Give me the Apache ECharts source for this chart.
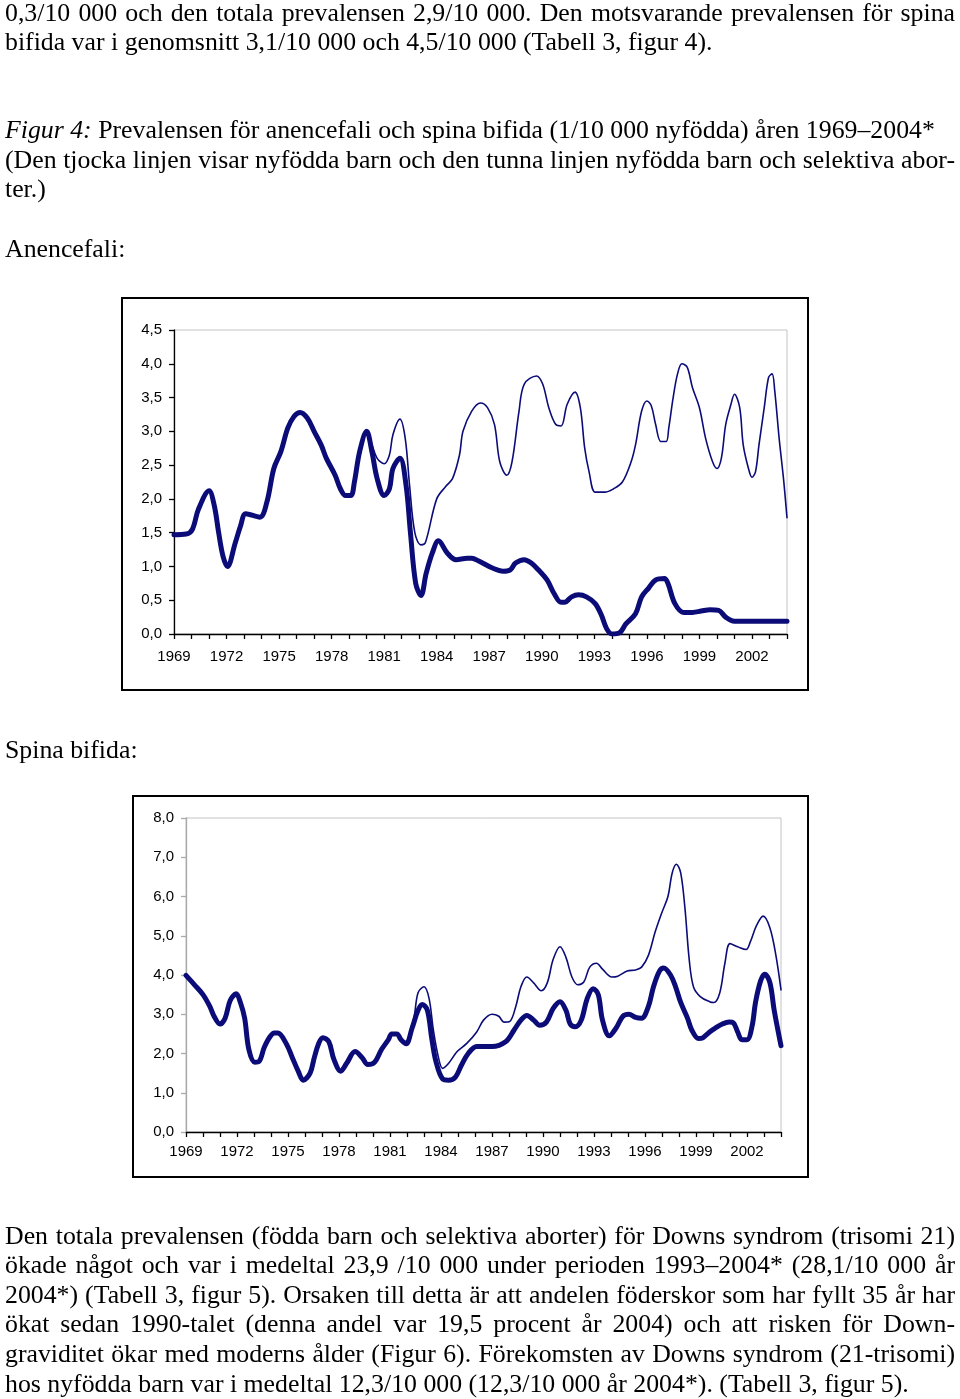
<!DOCTYPE html>
<html><head><meta charset="utf-8">
<script src="https://cdn.jsdelivr.net/npm/echarts@6/dist/echarts.min.js"></script>
<style>
html,body{margin:0;padding:0;background:#fff;}
body{width:960px;height:1399px;position:relative;overflow:hidden;font-family:"Liberation Serif","Times New Roman",serif;font-size:25.8px;color:#000;}
#chart{position:absolute;left:0;top:0;width:960px;height:1399px;}
.ln{position:absolute;left:5px;width:950px;line-height:25.8px;white-space:nowrap;}
.j{text-align:justify;text-align-last:justify;}
</style></head>
<body>
<div id="chart"></div>
<div class="ln j" style="top:0px">0,3/10 000 och den totala prevalensen 2,9/10 000. Den motsvarande prevalensen för spina</div>
<div class="ln" style="top:29px">bifida var i genomsnitt 3,1/10 000 och 4,5/10 000 (Tabell 3, figur 4).</div>
<div class="ln" style="top:117.2px"><i>Figur 4:</i> Prevalensen för anencefali och spina bifida (1/10 000 nyfödda) åren 1969–2004*</div>
<div class="ln j" style="top:147.2px">(Den tjocka linjen visar nyfödda barn och den tunna linjen nyfödda barn och selektiva abor-</div>
<div class="ln" style="top:176.2px">ter.)</div>
<div class="ln" style="top:236.2px">Anencefali:</div>
<div class="ln" style="top:737.2px">Spina bifida:</div>
<div class="ln j" style="top:1223.2px">Den totala prevalensen (födda barn och selektiva aborter) för Downs syndrom (trisomi 21)</div>
<div class="ln j" style="top:1252.4px">ökade något och var i medeltal 23,9 /10 000 under perioden 1993–2004* (28,1/10 000 år</div>
<div class="ln j" style="top:1282.2px">2004*) (Tabell 3, figur 5). Orsaken till detta är att andelen föderskor som har fyllt 35 år har</div>
<div class="ln j" style="top:1311.4px">ökat sedan 1990-talet (denna andel var 19,5 procent år 2004) och att risken för Down-</div>
<div class="ln j" style="top:1341.2px">graviditet ökar med moderns ålder (Figur 6). Förekomsten av Downs syndrom (21-trisomi)</div>
<div class="ln" style="top:1371.2px">hos nyfödda barn var i medeltal 12,3/10 000 (12,3/10 000 år 2004*). (Tabell 3, figur 5).</div>
<script>
// ---- Anencefali ----
const anenBirthYears = [1969,1969.7,1970.05,1970.4,1971.0,1971.3,1971.55,1971.8,1972.05,1972.5,1972.8,1973.1,1973.9,1974.3,1974.7,1975.1,1975.5,1975.85,1976.2,1976.6,1977.0,1977.4,1977.7,1978.2,1978.5,1978.8,1979.1,1979.3,1979.6,1980.0,1980.3,1980.6,1981.0,1981.3,1981.5,1981.9,1982.25,1982.5,1982.8,1983.1,1983.4,1983.75,1984.1,1984.6,1985.1,1985.75,1986.0,1986.4,1987.15,1987.8,1988.2,1988.5,1989.0,1989.4,1989.8,1990.3,1990.7,1991.1,1991.3,1991.7,1992.1,1992.55,1993.05,1993.4,1993.7,1994.0,1994.45,1994.8,1995.35,1995.7,1996.1,1996.5,1997.0,1997.2,1997.6,1998.1,1998.6,1999.1,1999.6,2000.1,2000.5,2001.0,2002.0,2003.0,2004.0];
const anenBirthVals = [1.47,1.48,1.55,1.85,2.12,1.9,1.5,1.15,1.0,1.35,1.6,1.78,1.73,1.95,2.45,2.7,3.05,3.22,3.28,3.2,3.0,2.8,2.6,2.35,2.15,2.05,2.05,2.25,2.7,3.0,2.7,2.3,2.05,2.15,2.45,2.6,2.2,1.5,0.75,0.57,0.9,1.2,1.38,1.2,1.1,1.12,1.12,1.08,0.98,0.93,0.95,1.05,1.1,1.05,0.95,0.8,0.6,0.47,0.47,0.55,0.58,0.55,0.45,0.28,0.08,0.0,0.02,0.15,0.3,0.55,0.68,0.8,0.82,0.75,0.45,0.32,0.32,0.34,0.36,0.35,0.25,0.19,0.19,0.19,0.19];
const anenTotalYears = [1979.6,1980.0,1980.3,1980.6,1981.0,1981.3,1981.5,1981.9,1982.2,1982.45,1982.75,1983.1,1983.35,1984.0,1984.5,1984.9,1985.3,1985.5,1986.0,1986.5,1986.9,1987.3,1987.6,1988.0,1988.3,1988.7,1989.0,1989.7,1990.05,1990.4,1990.8,1991.1,1991.45,1991.9,1992.2,1992.45,1992.7,1993.05,1993.6,1994.1,1994.6,1995.1,1995.35,1995.7,1996.0,1996.25,1996.5,1996.8,1997.1,1997.25,1997.5,1997.75,1998.0,1998.3,1998.6,1999.0,1999.35,1999.75,2000.0,2000.25,2000.5,2000.8,2001.0,2001.3,2001.5,2001.8,2002.0,2002.2,2002.4,2002.7,2002.95,2003.15,2003.3,2003.55,2003.8,2004.0];
const anenTotalVals = [2.7,3.0,2.8,2.6,2.52,2.65,2.95,3.18,2.9,2.2,1.5,1.32,1.35,2.0,2.18,2.3,2.65,3.0,3.3,3.42,3.35,3.1,2.55,2.35,2.55,3.3,3.7,3.82,3.7,3.35,3.1,3.08,3.4,3.58,3.35,2.75,2.4,2.1,2.1,2.15,2.25,2.55,2.8,3.3,3.45,3.38,3.1,2.85,2.85,3.05,3.5,3.85,4.0,3.95,3.65,3.35,2.9,2.55,2.45,2.6,3.1,3.4,3.55,3.35,2.8,2.45,2.32,2.4,2.8,3.35,3.8,3.85,3.6,2.9,2.3,1.72];
// ---- Spina bifida ----
const spinaBirthYears = [1969.0,1969.5,1970.0,1970.4,1970.65,1971.0,1971.3,1971.6,1971.95,1972.2,1972.45,1972.7,1973.05,1973.3,1973.6,1973.9,1974.2,1974.4,1974.9,1975.25,1975.6,1975.9,1976.3,1976.55,1976.8,1977.05,1977.4,1977.7,1978.1,1978.45,1978.95,1979.35,1979.7,1980.1,1980.5,1980.9,1981.1,1981.4,1981.65,1981.95,1982.3,1982.65,1982.9,1983.2,1983.45,1983.7,1984.1,1984.45,1984.85,1985.2,1985.6,1986.1,1987.0,1987.8,1988.3,1988.7,1989.05,1989.45,1989.8,1990.2,1990.6,1991.0,1991.35,1991.6,1991.9,1992.25,1992.6,1992.95,1993.25,1993.5,1993.9,1994.3,1994.7,1995.05,1995.45,1995.8,1996.2,1996.5,1996.85,1997.1,1997.5,1997.8,1998.1,1998.5,1998.75,1999.15,1999.4,1999.8,2000.15,2000.55,2000.95,2001.2,2001.45,2001.7,2002.0,2002.3,2002.5,2002.8,2003.05,2003.35,2003.6,2004.0];
const spinaBirthVals = [3.99,3.75,3.5,3.2,2.95,2.75,2.9,3.35,3.52,3.3,2.9,2.1,1.78,1.8,2.15,2.4,2.52,2.52,2.25,1.9,1.55,1.32,1.5,1.9,2.25,2.4,2.3,1.85,1.55,1.75,2.05,1.9,1.72,1.78,2.1,2.35,2.5,2.5,2.35,2.25,2.65,3.1,3.25,3.1,2.4,1.8,1.35,1.32,1.4,1.7,2.0,2.18,2.18,2.3,2.6,2.85,2.97,2.85,2.72,2.8,3.15,3.32,3.1,2.75,2.68,2.85,3.4,3.65,3.5,2.85,2.45,2.65,2.95,3.0,2.92,2.9,3.2,3.7,4.1,4.18,4.0,3.7,3.3,2.9,2.6,2.38,2.4,2.55,2.65,2.75,2.8,2.78,2.55,2.35,2.35,2.7,3.3,3.85,4.02,3.8,3.1,2.2];
const spinaTotalYears = [1981.65,1981.95,1982.4,1982.65,1983.0,1983.3,1983.55,1983.85,1984.1,1984.45,1984.95,1985.5,1986.1,1986.5,1987.0,1987.4,1987.7,1988.05,1988.4,1988.7,1989.05,1989.45,1989.9,1990.25,1990.6,1991.0,1991.35,1991.7,1992.05,1992.4,1992.75,1993.15,1993.5,1994.05,1994.4,1994.95,1995.45,1995.8,1996.2,1996.6,1997.0,1997.35,1997.6,1997.85,1998.1,1998.35,1998.6,1998.85,1999.25,1999.8,2000.05,2000.4,2000.7,2001.0,2001.45,2001.95,2002.2,2002.55,2002.95,2003.35,2003.7,2004.0];
const spinaTotalVals = [2.35,2.3,2.9,3.55,3.7,3.4,2.6,1.9,1.62,1.75,2.05,2.25,2.55,2.85,3.0,2.95,2.8,2.82,3.2,3.7,3.95,3.8,3.6,3.8,4.4,4.72,4.45,3.95,3.75,3.82,4.2,4.3,4.15,3.95,3.97,4.1,4.13,4.2,4.5,5.1,5.6,6.0,6.6,6.82,6.6,5.7,4.4,3.7,3.45,3.32,3.3,3.55,4.3,4.8,4.72,4.65,4.85,5.25,5.5,5.2,4.5,3.62];

const yearMin = 1969, yearMax = 2004, labelStep = 3;
const anenYMax = 4.5, anenYStep = 0.5;
const spinaYMax = 8, spinaYStep = 1;

function pairs(xs, ys) { return xs.map((x, i) => [x, ys[i]]); }
const commaFmt = v => v.toFixed(1).replace('.', ',');
const yearFmt = v => ((v - yearMin) % labelStep === 0 && v < yearMax) ? String(v) : '';
const axisFont = '"Liberation Sans",Arial,sans-serif';
const navy = '#0c0c78';

function xAxisCfg(gi, margin) {
  return {
    type: 'value', gridIndex: gi, min: yearMin, max: yearMax, interval: 1,
    axisLine: { show: true, onZero: false, lineStyle: { color: '#000', width: 1.3 } },
    axisTick: { show: true, length: 5, lineStyle: { color: '#000', width: 1.3 } },
    axisLabel: { margin: margin, fontSize: 15, fontFamily: axisFont, color: '#000', formatter: yearFmt, showMinLabel: true, showMaxLabel: true, hideOverlap: false },
    splitLine: { show: false }
  };
}
function yAxisCfg(gi, max, step, lineColor) {
  return {
    type: 'value', gridIndex: gi, min: 0, max: max, interval: step,
    axisLine: { show: true, onZero: false, lineStyle: { color: lineColor, width: 1.3 } },
    axisTick: { show: true, length: 5, lineStyle: { color: lineColor, width: 1.3 } },
    axisLabel: { margin: 12, fontSize: 15, fontFamily: axisFont, color: '#000', formatter: commaFmt },
    splitLine: { show: false }
  };
}
function lineSeries(gi, xs, ys, width, z) {
  return {
    type: 'line', xAxisIndex: gi, yAxisIndex: gi, data: pairs(xs, ys),
    smooth: 0.35, symbol: 'none', z: z, animation: false,
    lineStyle: { color: navy, width: width, cap: 'round', join: 'round' }
  };
}

const chart = echarts.init(document.getElementById('chart'), null, { renderer: 'canvas' });
chart.setOption({
  backgroundColor: 'transparent',
  animation: false,
  graphic: [
    { type: 'rect', shape: { x: 122, y: 298, width: 686, height: 392 }, style: { fill: 'none', stroke: '#000', lineWidth: 2 } },
    { type: 'rect', shape: { x: 133, y: 796, width: 675, height: 381 }, style: { fill: 'none', stroke: '#000', lineWidth: 2 } }
  ],
  grid: [
    { left: 174, top: 330, width: 613, height: 304, show: true, borderColor: '#c4c4c4', borderWidth: 1, backgroundColor: '#fff' },
    { left: 186, top: 818, width: 595, height: 314, show: true, borderColor: '#c4c4c4', borderWidth: 1, backgroundColor: '#fff' }
  ],
  xAxis: [xAxisCfg(0, 15), xAxisCfg(1, 12)],
  yAxis: [yAxisCfg(0, anenYMax, anenYStep, '#000'), yAxisCfg(1, spinaYMax, spinaYStep, '#aaaaaa')],
  series: [
    lineSeries(0, anenTotalYears, anenTotalVals, 1.6, 2),
    lineSeries(0, anenBirthYears, anenBirthVals, 5, 3),
    lineSeries(1, spinaTotalYears, spinaTotalVals, 1.6, 2),
    lineSeries(1, spinaBirthYears, spinaBirthVals, 5, 3)
  ]
});
</script>
</body></html>
